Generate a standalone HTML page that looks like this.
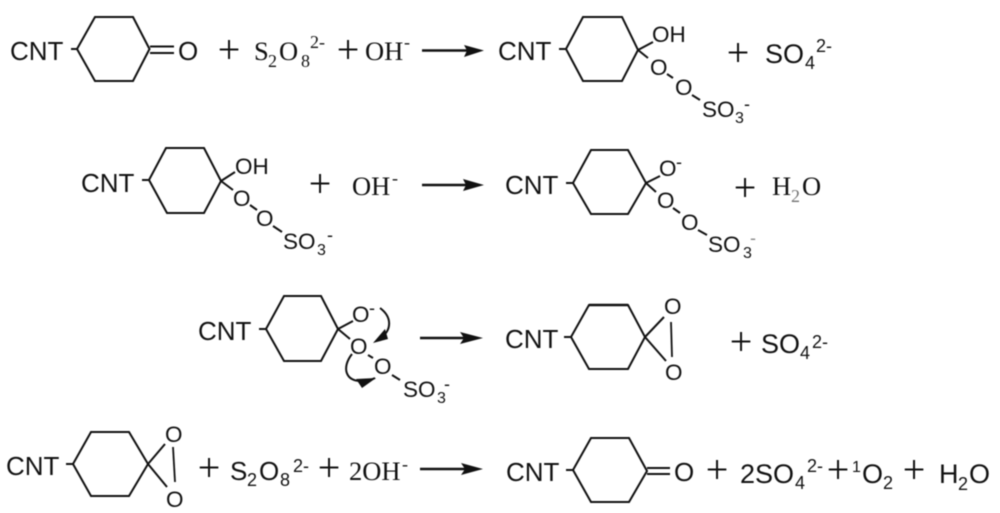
<!DOCTYPE html>
<html>
<head>
<meta charset="utf-8">
<style>
html,body{margin:0;padding:0;background:#fff;width:1000px;height:513px;overflow:hidden}
svg{display:block;filter:blur(.45px)}
text{fill:#111}
.s{font-family:"Liberation Sans",sans-serif}
.r{font-family:"Liberation Serif",serif}
.c{font-size:26px}
.o{font-size:22.5px}
.b{font-size:27px}
.f{font-size:26.5px}
.u{font-size:16px}
.w{font-size:18px}
.m{font-size:18px}
.p{font-family:"Liberation Serif",serif;font-size:40px;text-anchor:middle}
.l{fill:none;stroke:#111;stroke-width:2}
.t{fill:none;stroke:#111;stroke-width:1.8}
.a{fill:none;stroke:#111;stroke-width:2.6}
.h{fill:#111;stroke:none}
</style>
</head>
<body>
<svg width="1000" height="513" viewBox="0 0 1000 513" xmlns="http://www.w3.org/2000/svg">

<!-- Row 1 left -->
<path class="l" d="M71,49H77L95,17H133L149.5,49L133,81H95L77,49"/>
<path class="l" d="M150,46.5H174M150,53H174"/>
<text class="s c" x="10" y="60">CNT</text>
<text class="s c" x="178" y="60">O</text>
<text class="p" x="229" y="63">+</text>
<text class="r f" x="254" y="60">S</text><text class="r w" x="268" y="67">2</text><text class="r f" x="279" y="60">O</text><text class="r w" x="301" y="67">8</text><text class="r m" x="310" y="48">2-</text>
<text class="p" x="348" y="63">+</text>
<text class="r f" x="365" y="60">OH</text><text class="r m" x="404" y="48">-</text>
<path class="a" d="M422,50.5H470"/><path class="h" d="M484,50.5L464,45L467,50.5L464,57Z"/>

<!-- Row 1 right -->
<path class="l" d="M559,49H566L583,17H622L638,50L622,81H583L566,49"/>
<path class="l" d="M638,50L653,42M638,50L648,58"/>
<path class="l" d="M667,74L673,78M692,95L700,100"/>
<text class="s c" x="498" y="60">CNT</text>
<text class="s o" x="652" y="42">OH</text>
<text class="s o" x="650" y="75">O</text>
<text class="s o" x="675" y="95">O</text>
<text class="s o" x="702" y="117">SO</text><text class="s u" x="735" y="123">3</text><text class="s m" x="744" y="110">-</text>
<text class="p" x="738" y="66">+</text>
<text class="s b" x="765" y="63">SO</text><text class="s w" x="805" y="69">4</text><text class="s m" x="816" y="52">2-</text>

<!-- Row 2 left -->
<path class="l" d="M142,180H149L166,148H204L221,181L204,213H167L149,180"/>
<path class="l" d="M221,181L235,172M221,181L233,190"/>
<path class="l" d="M250,205L257,210M273,226L282,232"/>
<text class="s c" x="81" y="192">CNT</text>
<text class="s o" x="235" y="174">OH</text>
<text class="s o" x="233" y="206">O</text>
<text class="s o" x="256" y="226">O</text>
<text class="s o" x="283" y="249">SO</text><text class="s u" x="317" y="255">3</text><text class="s m" x="327" y="241">-</text>
<text class="p" x="320" y="197">+</text>
<text class="r f" x="352" y="195">OH</text><text class="r m" x="392" y="184">-</text>
<path class="a" d="M422,185H470"/><path class="h" d="M484,185L463,179L466,185L463,191Z"/>

<!-- Row 2 right -->
<path class="l" d="M566,183H573L591,150H628L646,183L628,214H591L573,183"/>
<path class="l" d="M646,183L660,176M646,183L656,192"/>
<path class="l" d="M673,208L680,213M698,230L707,235"/>
<text class="s c" x="505" y="194">CNT</text>
<text class="s o" x="659" y="176">O</text><text class="s m" x="676" y="168">-</text>
<text class="s o" x="657" y="208">O</text>
<text class="s o" x="681" y="230">O</text>
<text class="s o" x="708" y="252">SO</text><text class="s u" x="743" y="258">3</text><text class="s m" x="750" y="244" fill-opacity=".5">-</text>
<text class="p" x="745" y="201">+</text>
<text class="r f" x="772" y="195">H</text><text class="r w" x="791" y="202" fill-opacity=".6">2</text><text class="r f" x="802" y="195">O</text>

<!-- Row 3 left -->
<path class="l" d="M259,329H266L284,296H321L338,329L321,361H284L266,329"/>
<path class="l" d="M338,329L353,321M338,329L350,339"/>
<path class="l" d="M368,355L373,358M392,375L400,380"/>
<text class="s c" x="198" y="340">CNT</text>
<text class="s o" x="352" y="322">O</text><text class="s m" x="369" y="314">-</text>
<text class="s o" x="350" y="354">O</text>
<text class="s o" x="374" y="374">O</text>
<text class="s o" x="403" y="397">SO</text><text class="s u" x="437" y="403">3</text><text class="s m" x="444" y="390">-</text>
<path class="l" d="M380,308C391,316,394,330,378,340"/><path class="h" d="M373,343L385,329L388,339Z"/>
<path class="l" d="M352,354C341,368,346,382,362,381C367,381,371,380,375,378"/><path class="h" d="M376,378L356,379L362,388Z"/>
<path class="a" d="M420,338H468"/><path class="h" d="M483,338L460,332L464,338L460,344Z"/>

<!-- Row 3 right -->
<path class="l" d="M564,337H571L589,305H628L645,337L628,369H589L571,337"/>
<path class="l" d="M589,305H628" style="stroke-width:2.6"/>
<path class="l" d="M645,337L664,317M645,337L666,361"/>
<path class="t" d="M671,322L672,357"/>
<text class="s c" x="505" y="348">CNT</text>
<text class="s o" x="664" y="314">O</text>
<text class="s o" x="665" y="380">O</text>
<text class="p" x="741" y="355">+</text>
<text class="s b" x="761" y="353">SO</text><text class="s w" x="800" y="359">4</text><text class="s m" x="812" y="348">2-</text>

<!-- Row 4 left -->
<path class="l" d="M66,464H73L91,432H129L148,464L129,496H91L73,464"/>
<path class="l" d="M148,464L165,444M148,464L167,487"/>
<path class="t" d="M173,447L175,482"/>
<text class="s c" x="6" y="475">CNT</text>
<text class="s o" x="165" y="442">O</text>
<text class="s o" x="166" y="507">O</text>
<text class="p" x="209" y="481">+</text>
<text class="s c" x="230" y="480">S</text><text class="s w" x="247" y="486">2</text><text class="s c" x="259" y="480">O</text><text class="s w" x="280" y="486">8</text><text class="s m" x="293" y="472">2-</text>
<text class="p" x="329" y="481">+</text>
<text class="r f" x="349" y="480">2OH</text><text class="r m" x="402" y="470">-</text>
<path class="a" d="M420,469H468"/><path class="h" d="M483,469L461,463L465,469L461,475Z"/>

<!-- Row 4 right -->
<path class="l" d="M566,470H573L591,438H629L647,471L629,502H591L573,470"/>
<path class="l" d="M647,468H670M647,474H670"/>
<text class="s c" x="506" y="481">CNT</text>
<text class="s c" x="674" y="481">O</text>
<text class="p" x="717" y="483">+</text>
<text class="s b" x="740" y="483">2SO</text><text class="s w" x="795" y="489">4</text><text class="s m" x="807" y="472">2-</text>
<text class="p" x="838" y="483">+</text>
<text class="s u" x="852" y="472">1</text><text class="s b" x="862" y="483">O</text><text class="s w" x="883" y="489">2</text>
<text class="p" x="914" y="483">+</text>
<text class="s b" x="939" y="483">H</text><text class="s w" x="958" y="490">2</text><text class="s b" x="969" y="483">O</text>

</svg>
</body>
</html>
